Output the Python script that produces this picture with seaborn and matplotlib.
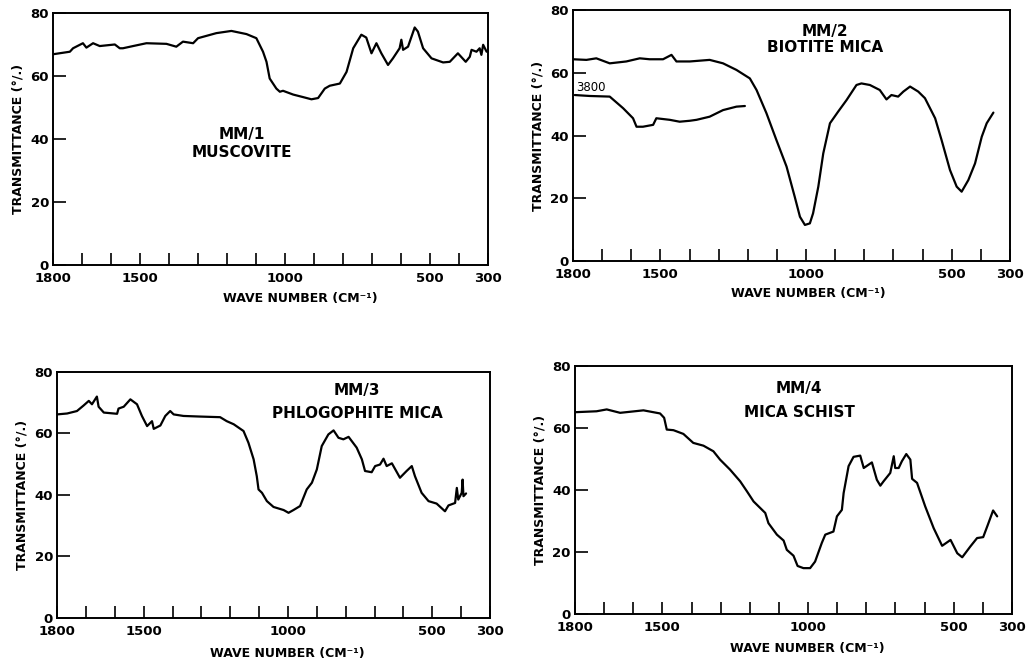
import matplotlib
matplotlib.use("Agg")
import matplotlib.pyplot as plt
import seaborn as sns
import pandas as pd

# ---------------- data ----------------
wn1 = [1800, 1742, 1731, 1697, 1685, 1662, 1639, 1587, 1570, 1559, 1524, 1478, 1409, 1375, 1352, 1317, 1300,
       1237, 1185, 1133, 1099, 1076, 1064, 1053, 1030, 1018, 1007, 972, 938, 909, 886, 863, 846, 811,
       788, 765, 737, 720, 702, 685, 668, 645, 628, 605, 599, 593, 576, 553, 542, 524, 495, 455, 432,
       404, 377, 363, 357, 340, 329, 323, 317, 305]
t1 = [66.9, 67.7, 68.8, 70.4, 69.0, 70.4, 69.5, 70.0, 68.8, 68.8, 69.5, 70.4, 70.2, 69.3, 70.9, 70.4, 72.0,
      73.6, 74.3, 73.3, 72.0, 67.7, 64.5, 59.2, 56.0, 55.0, 55.3, 54.1, 53.3, 52.6, 53.0, 56.0, 56.9, 57.6,
      61.3, 68.8, 73.1, 72.2, 67.2, 70.4, 67.2, 63.5, 65.6, 68.8, 71.5, 68.3, 69.3, 75.4, 74.1, 68.8, 65.6,
      64.3, 64.5, 67.2, 64.5, 66.1, 68.3, 67.7, 68.8, 66.7, 69.9, 67.7]

wn2 = [1800, 1754, 1720, 1674, 1617, 1571, 1537, 1491, 1462, 1445, 1399, 1331, 1285, 1239, 1193, 1170,
       1136, 1102, 1067, 1039, 1021, 1004, 987, 976, 958, 941, 918, 890, 861, 827, 810, 781, 747, 724,
       707, 684, 666, 643, 615, 592, 557, 535, 506, 483, 466, 443, 420, 397, 380, 357]
t2 = [64.3, 64.1, 64.6, 63.0, 63.6, 64.6, 64.3, 64.3, 65.7, 63.6, 63.6, 64.1, 63.0, 60.9, 58.2, 54.5,
      47.1, 38.6, 30.1, 20.5, 14.1, 11.5, 12.0, 15.2, 23.7, 34.3, 43.9, 47.6, 51.3, 56.1, 56.6, 56.1,
      54.5, 51.5, 52.9, 52.4, 54.0, 55.6, 54.0, 51.9, 45.5, 38.6, 29.0, 23.7, 22.1, 25.8, 31.1, 39.6,
      43.9, 47.3]
wn2b = [1794, 1743, 1674, 1628, 1594, 1582, 1560, 1525, 1514, 1468, 1434, 1399, 1376, 1331, 1285, 1239, 1210]
t2b = [52.9, 52.6, 52.4, 48.7, 45.5, 42.8, 42.8, 43.4, 45.5, 45.0, 44.4, 44.7, 45.0, 46.0, 48.1, 49.2, 49.4]

wn3 = [1800, 1765, 1731, 1708, 1690, 1679, 1662, 1656, 1638, 1592, 1587, 1569, 1546, 1523, 1506, 1488,
       1471, 1465, 1442, 1425, 1408, 1396, 1362, 1304, 1235, 1212, 1188, 1154, 1137, 1119, 1108, 1102,
       1090, 1073, 1050, 1015, 998, 981, 958, 935, 917, 900, 883, 860, 842, 825, 808, 790, 762, 744, 733,
       710, 698, 681, 669, 658, 640, 612, 589, 571, 560, 537, 513, 485, 456, 444, 421, 415, 410, 398,
       395, 392, 383]
t3 = [66.2, 66.5, 67.3, 69.1, 70.6, 69.5, 72.0, 68.7, 66.8, 66.4, 68.1, 68.7, 71.1, 69.5, 65.7, 62.4,
      64.0, 61.5, 62.6, 65.7, 67.3, 66.2, 65.7, 65.5, 65.3, 64.0, 63.0, 60.8, 57.0, 51.6, 46.1, 41.8,
      40.7, 38.0, 36.1, 35.1, 34.2, 35.1, 36.4, 41.8, 44.0, 48.3, 55.9, 59.7, 61.0, 58.6, 58.1, 58.9,
      55.4, 51.6, 47.8, 47.4, 49.4, 49.9, 51.8, 49.4, 50.3, 45.6, 47.8, 49.4, 46.1, 40.7, 38.0, 37.2,
      34.7, 36.6, 37.4, 42.3, 38.5, 40.7, 45.0, 39.6, 40.5]

wn4 = [1800, 1726, 1691, 1645, 1565, 1508, 1494, 1485, 1462, 1428, 1394, 1359, 1325, 1302, 1268, 1233,
       1210, 1187, 1147, 1136, 1107, 1084, 1073, 1050, 1036, 1016, 993, 976, 953, 941, 913, 901, 884,
       878, 861, 844, 821, 809, 781, 764, 752, 741, 718, 706, 701, 689, 678, 663, 649, 643, 626, 598,
       569, 540, 511, 488, 471, 443, 420, 399, 383, 365, 351]
t4 = [65.1, 65.4, 66.0, 64.9, 65.7, 64.7, 63.3, 59.5, 59.3, 58.1, 55.2, 54.3, 52.5, 49.8, 46.6, 42.8,
      39.6, 36.3, 32.6, 29.3, 25.6, 23.7, 20.7, 18.8, 15.5, 14.8, 14.8, 16.9, 22.9, 25.6, 26.6, 31.5,
      33.6, 39.0, 47.7, 50.7, 51.1, 47.1, 48.9, 43.3, 41.4, 42.8, 45.5, 50.9, 47.1, 47.1, 49.3, 51.6,
      49.8, 43.6, 42.3, 34.7, 27.7, 22.0, 23.9, 19.6, 18.3, 21.8, 24.5, 24.8, 28.8, 33.4, 31.5]

titles = [("MM/1", "MUSCOVITE"), ("MM/2", "BIOTITE MICA"),
          ("MM/3", "PHLOGOPHITE MICA"), ("MM/4", "MICA SCHIST")]
x_major = [1800, 1500, 1000, 500, 300]
x_minor = [1700, 1600, 1400, 1300, 1200, 1100, 900, 800, 700, 600, 400]
y_ticks = [0, 20, 40, 60, 80]
offset_label = "3800"

# ---------------- style ----------------
sns.set_style("ticks")
plt.rcParams['font.family'] = ['DejaVu Sans']
plt.rcParams['text.color'] = 'black'
plt.rcParams['axes.labelcolor'] = 'black'
plt.rcParams['xtick.color'] = 'black'
plt.rcParams['ytick.color'] = 'black'

fig = plt.figure(figsize=(10.26, 6.62), dpi=100)
rects = [(0.0517, 0.5997, 0.4240, 0.3807),
         (0.5585, 0.6057, 0.4259, 0.3792),
         (0.0556, 0.0665, 0.4220, 0.3716),
         (0.5604, 0.0725, 0.4260, 0.3746)]
xlab_pos = [(0.568, -0.108), (0.538, -0.102), (0.531, -0.120), (0.531, -0.112)]
title_pos = [(1150, 41.3, 35.7), (935, 73.1, 68.0), (760, 74.0, 66.5), (1030, 72.7, 65.1)]

series = [[(wn1, t1)], [(wn2, t2), (wn2b, t2b)], [(wn3, t3)], [(wn4, t4)]]

for i, rect in enumerate(rects):
    ax = fig.add_axes(rect)
    for wn, tt in series[i]:
        df = pd.DataFrame({"wn": wn, "T": tt})
        sns.lineplot(data=df, x="wn", y="T", ax=ax, sort=False, estimator=None,
                     color="black", linewidth=1.6)
    ax.set_xlim(1800, 300)
    ax.set_ylim(0, 80)
    ax.set_xticks(x_major)
    ax.set_xticklabels([str(v) for v in x_major], fontsize=9.5, fontweight="bold", color="black")
    ax.set_xticks(x_minor, minor=True)
    ax.set_yticks(y_ticks)
    ax.set_yticklabels([str(v) for v in y_ticks], fontsize=9.5, fontweight="bold", color="black")
    ax.tick_params(axis="both", which="both", direction="in", length=9, width=1.2,
                   color="black", bottom=True, left=True, top=False, right=False)
    ax.tick_params(axis="x", which="major", pad=5)
    ax.tick_params(axis="y", pad=3)
    for s in ax.spines.values():
        s.set_visible(True)
        s.set_linewidth(1.4)
        s.set_color("black")
    ax.set_ylabel("TRANSMITTANCE (°/.)", fontsize=9, fontweight="bold", labelpad=4, color="black")
    ax.set_xlabel("WAVE NUMBER (CM⁻¹)", fontsize=9, fontweight="bold", color="black")
    ax.xaxis.set_label_coords(*xlab_pos[i])
    tx, ty1, ty2 = title_pos[i]
    ax.text(tx, ty1, titles[i][0], ha="center", va="center", fontsize=11, fontweight="bold", color="black")
    ax.text(tx, ty2, titles[i][1], ha="center", va="center", fontsize=11, fontweight="bold", color="black")
    if i == 1:
        ax.text(1790, 55.4, offset_label, ha="left", va="center", fontsize=8.5, color="black")

fig.savefig("out.png", dpi=100)
